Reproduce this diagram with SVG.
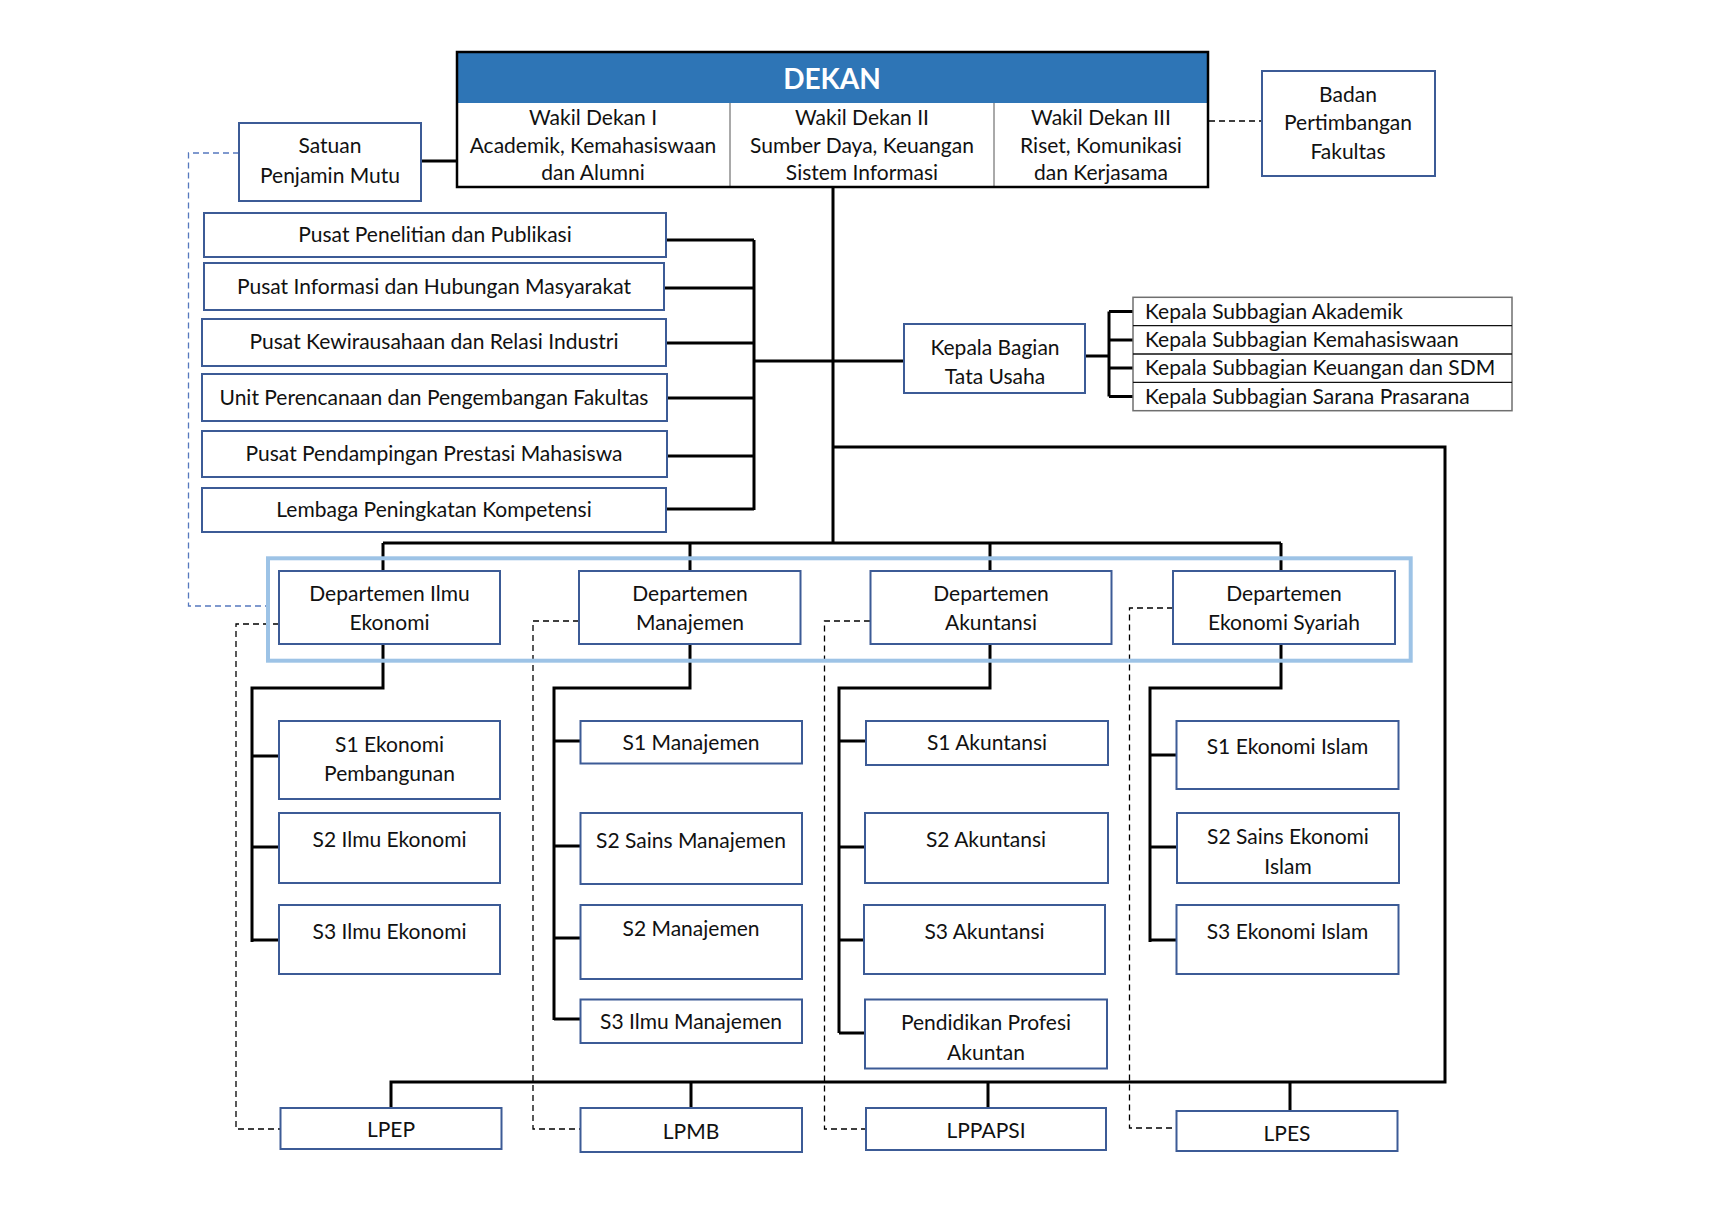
<svg xmlns="http://www.w3.org/2000/svg" width="1722" height="1217" viewBox="0 0 1722 1217">
<style>
.box{fill:#fff;stroke:#3C5B96;stroke-width:2}
.t{font-family:Lato,'Liberation Sans',sans-serif;font-size:21px;fill:#111;text-anchor:middle;dominant-baseline:central;transform:translateY(-1.5px)}
.tl{text-anchor:start}
.ln{stroke:#000;stroke-width:3;fill:none}
.dash{stroke:#000;stroke-width:1.3;stroke-dasharray:6 4;fill:none}
.bdash{stroke:#5578BE;stroke-width:1.3;stroke-dasharray:6 4;fill:none}
</style>
<rect width="1722" height="1217" fill="#fff"/>
<g id="connectors">
<path class="bdash" d="M239 153 H188.5 V606 H268"/>
<path class="dash" d="M279 624 H236 V1129 H280"/>
<path class="dash" d="M579 621 H533 V1129 H580"/>
<path class="dash" d="M870 621 H824.5 V1129 H866"/>
<path class="dash" d="M1173 608 H1129.5 V1128 H1176"/>
<path class="dash" d="M1209 121 H1262"/>
<path class="ln" d="M833 187 V543"/>
<path class="ln" d="M421 161 H457"/>
<path class="ln" d="M754 240 V510 M666 240 H754 M664 288 H754 M666 343 H754 M667 398 H754 M667 456 H754 M666 509 H754 M754 361 H904"/>
<path class="ln" d="M1085 356 H1109 M1109 311.5 V396.5 M1109 311.5 H1133 M1109 340 H1133 M1109 368 H1133 M1109 396.5 H1133"/>
<path class="ln" d="M833 447 H1445 V1082 H391 V1108 M691 1082 V1108 M988 1082 V1108 M1290 1082 V1111"/>
<path class="ln" d="M383 543 H1281 M383 543 V571 M690 543 V571 M990 543 V571 M1281 543 V571"/>
<path class="ln" d="M383 644 V688 H252 V942 M252 756 H279 M252 847 H279 M252 940 H279"/>
<path class="ln" d="M690 644 V688 H554 V1020 M554 741 H580 M554 846 H580 M554 938 H580 M554 1019 H580"/>
<path class="ln" d="M990 644 V688 H839 V1033 M839 741 H866 M839 847 H865 M839 940 H864 M839 1033 H865"/>
<path class="ln" d="M1281 644 V688 H1150 V942 M1150 755 H1176 M1150 847 H1177 M1150 940 H1176"/>
</g>
<g id="dekan">
<rect x="457" y="52" width="751" height="51" fill="#2E75B6"/>
<path d="M730 103 V187 M994 103 V187" stroke="#555" stroke-width="1"/>
<rect x="457" y="52" width="751" height="135" fill="none" stroke="#000" stroke-width="2.5"/>
<text class="t" x="832" y="79" style="font-weight:bold;font-size:28px;fill:#fff">DEKAN</text>
<text class="t" x="593" y="118">Wakil Dekan I</text>
<text class="t" x="593" y="145.5">Academik, Kemahasiswaan</text>
<text class="t" x="593" y="173">dan Alumni</text>
<text class="t" x="862" y="118">Wakil Dekan II</text>
<text class="t" x="862" y="145.5">Sumber Daya, Keuangan</text>
<text class="t" x="862" y="173">Sistem Informasi</text>
<text class="t" x="1101" y="118">Wakil Dekan III</text>
<text class="t" x="1101" y="145.5">Riset, Komunikasi</text>
<text class="t" x="1101" y="173">dan Kerjasama</text>
</g>
<g id="satuan"><rect class="box" x="239" y="123" width="182" height="78"/><text class="t" x="330" y="146">Satuan</text><text class="t" x="330" y="176">Penjamin Mutu</text></g>
<g id="badan"><rect class="box" x="1262" y="71" width="173" height="105"/><text class="t" x="1348" y="95">Badan</text><text class="t" x="1348" y="123">Pertimbangan</text><text class="t" x="1348" y="151.5">Fakultas</text></g>
<g id="u1"><rect class="box" x="204" y="213" width="462" height="44"/><text class="t" x="435" y="235">Pusat Penelitian dan Publikasi</text></g>
<g id="u2"><rect class="box" x="204" y="263" width="460" height="47"/><text class="t" x="434" y="287">Pusat Informasi dan Hubungan Masyarakat</text></g>
<g id="u3"><rect class="box" x="202" y="319" width="464" height="47"/><text class="t" x="434" y="342">Pusat Kewirausahaan dan Relasi Industri</text></g>
<g id="u4"><rect class="box" x="202" y="374" width="465" height="47"/><text class="t" x="434" y="397.5">Unit Perencanaan dan Pengembangan Fakultas</text></g>
<g id="u5"><rect class="box" x="202" y="431" width="465" height="46"/><text class="t" x="434" y="454">Pusat Pendampingan Prestasi Mahasiswa</text></g>
<g id="u6"><rect class="box" x="202" y="488" width="464" height="44"/><text class="t" x="434" y="510">Lembaga Peningkatan Kompetensi</text></g>
<g id="kabag"><rect class="box" x="904" y="324" width="181" height="69"/><text class="t" x="995" y="348">Kepala Bagian</text><text class="t" x="995" y="377">Tata Usaha</text></g>
<g id="subbagian">
<rect x="1133" y="297.3" width="379" height="113.4" fill="#fff" stroke="#6f6f6f" stroke-width="1.5"/>
<path d="M1133 325.6 H1512 M1133 354 H1512 M1133 382.3 H1512" stroke="#111" stroke-width="1.3"/>
<text class="t tl" x="1145" y="311.5">Kepala Subbagian Akademik</text>
<text class="t tl" x="1145" y="340">Kepala Subbagian Kemahasiswaan</text>
<text class="t tl" x="1145" y="368.2">Kepala Subbagian Keuangan dan SDM</text>
<text class="t tl" x="1145" y="396.5">Kepala Subbagian Sarana Prasarana</text>
</g>
<g id="departemen-group"><rect x="268" y="558.3" width="1142.7" height="102.4" fill="none" stroke="#9DC3E6" stroke-width="4"/></g>
<g id="d1"><rect class="box" x="279" y="571" width="221" height="73"/><text class="t" x="389.5" y="594">Departemen Ilmu</text><text class="t" x="389.5" y="623">Ekonomi</text></g>
<g id="d2"><rect class="box" x="579" y="571" width="221.5" height="73"/><text class="t" x="690" y="594">Departemen</text><text class="t" x="690" y="623">Manajemen</text></g>
<g id="d3"><rect class="box" x="870.5" y="571" width="241" height="73"/><text class="t" x="991" y="594">Departemen</text><text class="t" x="991" y="623">Akuntansi</text></g>
<g id="d4"><rect class="box" x="1173" y="571" width="222" height="73"/><text class="t" x="1284" y="594">Departemen</text><text class="t" x="1284" y="623">Ekonomi Syariah</text></g>
<g id="p11"><rect class="box" x="279" y="721" width="221" height="78"/><text class="t" x="389.5" y="745">S1 Ekonomi</text><text class="t" x="389.5" y="774">Pembangunan</text></g>
<g id="p12"><rect class="box" x="279" y="813" width="221" height="70"/><text class="t" x="389.5" y="840">S2 Ilmu Ekonomi</text></g>
<g id="p13"><rect class="box" x="279" y="905" width="221" height="69"/><text class="t" x="389.5" y="931.5">S3 Ilmu Ekonomi</text></g>
<g id="p21"><rect class="box" x="580.5" y="721" width="221.5" height="42.5"/><text class="t" x="691" y="742.5">S1 Manajemen</text></g>
<g id="p22"><rect class="box" x="580.5" y="813" width="221.5" height="71"/><text class="t" x="691" y="841">S2 Sains Manajemen</text></g>
<g id="p23"><rect class="box" x="580.5" y="905" width="221.5" height="74"/><text class="t" x="691" y="929">S2 Manajemen</text></g>
<g id="p24"><rect class="box" x="580.5" y="999.5" width="221.5" height="43.5"/><text class="t" x="691" y="1022">S3 Ilmu Manajemen</text></g>
<g id="p31"><rect class="box" x="866" y="721" width="242" height="44"/><text class="t" x="987" y="743">S1 Akuntansi</text></g>
<g id="p32"><rect class="box" x="865" y="813" width="243" height="70"/><text class="t" x="986" y="840">S2 Akuntansi</text></g>
<g id="p33"><rect class="box" x="864" y="905" width="241" height="69"/><text class="t" x="984.5" y="931.5">S3 Akuntansi</text></g>
<g id="p34"><rect class="box" x="865" y="999.5" width="242" height="69"/><text class="t" x="986" y="1023">Pendidikan Profesi</text><text class="t" x="986" y="1052.5">Akuntan</text></g>
<g id="p41"><rect class="box" x="1176.5" y="721" width="222" height="68"/><text class="t" x="1287.5" y="746.5">S1 Ekonomi Islam</text></g>
<g id="p42"><rect class="box" x="1177" y="813" width="222" height="70"/><text class="t" x="1288" y="836.5">S2 Sains Ekonomi</text><text class="t" x="1288" y="866.5">Islam</text></g>
<g id="p43"><rect class="box" x="1176.5" y="905" width="222" height="69"/><text class="t" x="1287.5" y="931.5">S3 Ekonomi Islam</text></g>
<g id="lpep"><rect class="box" x="280.5" y="1108" width="221" height="41"/><text class="t" x="391" y="1130">LPEP</text></g>
<g id="lpmb"><rect class="box" x="580.5" y="1108" width="221.5" height="44"/><text class="t" x="691" y="1131.5">LPMB</text></g>
<g id="lppapsi"><rect class="box" x="866" y="1108" width="240" height="42"/><text class="t" x="986" y="1131">LPPAPSI</text></g>
<g id="lpes"><rect class="box" x="1176.5" y="1111" width="221" height="40"/><text class="t" x="1287" y="1133.5">LPES</text></g>
</svg>
